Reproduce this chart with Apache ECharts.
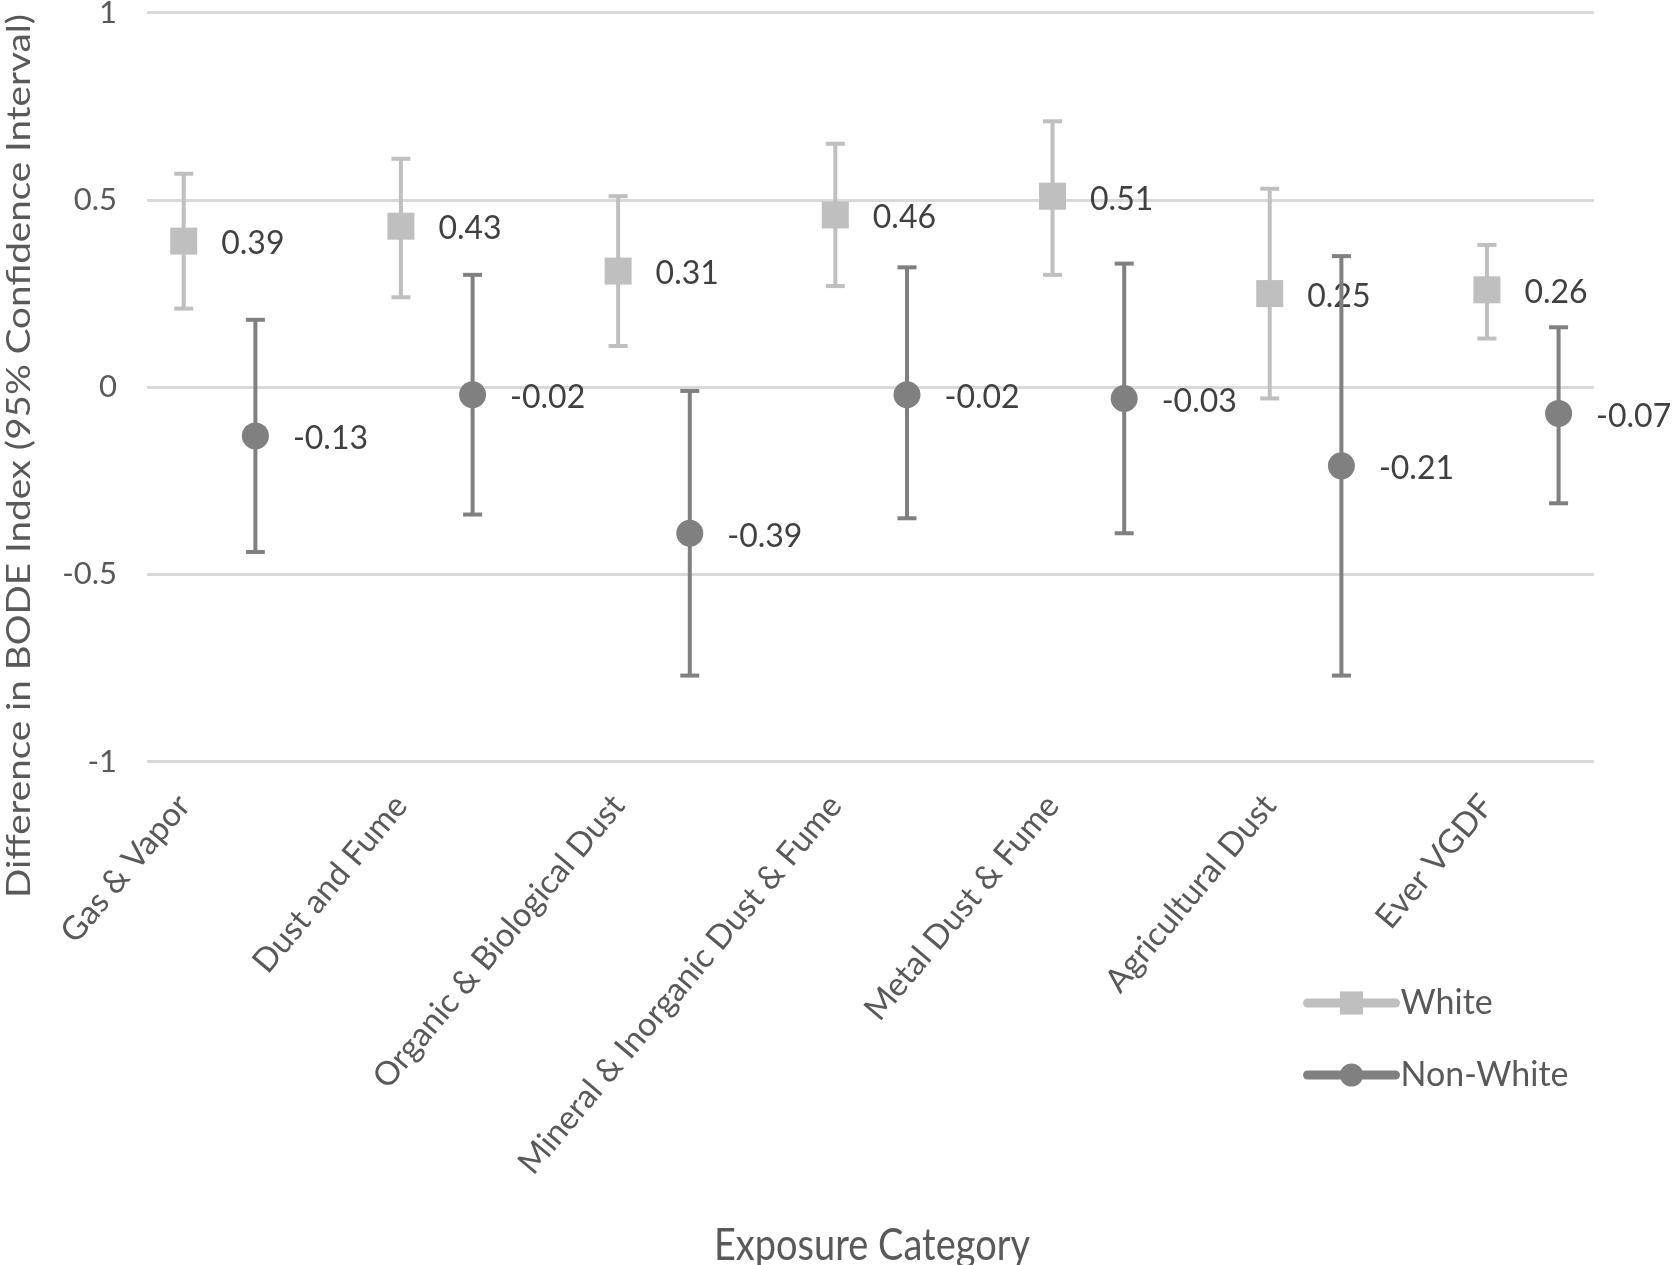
<!DOCTYPE html>
<html>
<head>
<meta charset="utf-8">
<script src="https://cdn.jsdelivr.net/npm/echarts@6/dist/echarts.min.js"></script>
<style>
html,body{margin:0;padding:0;background:#fff;}
#chart{width:1675px;height:1265px;}
</style>
</head>
<body>
<div id="chart"></div>
<script>
const categories = ['Gas & Vapor','Dust and Fume','Organic & Biological Dust','Mineral & Inorganic Dust & Fume','Metal Dust & Fume','Agricultural Dust','Ever VGDF'];
const whiteMean = [0.39, 0.43, 0.31, 0.46, 0.51, 0.25, 0.26];
const whiteLow  = [0.21, 0.24, 0.11, 0.27, 0.30, -0.03, 0.13];
const whiteHigh = [0.57, 0.61, 0.51, 0.65, 0.71, 0.53, 0.38];
const nonWhiteMean = [-0.13, -0.02, -0.39, -0.02, -0.03, -0.21, -0.07];
const nonWhiteLow  = [-0.44, -0.34, -0.77, -0.35, -0.39, -0.77, -0.31];
const nonWhiteHigh = [0.18, 0.30, -0.01, 0.32, 0.33, 0.35, 0.16];
const seriesNames = ['White', 'Non-White'];
const xTitle = 'Exposure Category';
const yTitle = 'Difference in BODE Index (95% Confidence Interval)';

const FONT = 'Lato';
const WHITE_COLOR = '#BFBFBF';
const NONWHITE_COLOR = '#808080';
const OFFSET = 0.33;

const catPos = categories.map((c, i) => i + 1);
const whitePts = categories.map((c, i) => [catPos[i], whiteMean[i]]);
const nonWhitePts = categories.map((c, i) => [catPos[i] + OFFSET, nonWhiteMean[i]]);
const whiteBars = categories.map((c, i) => [catPos[i], whiteLow[i], whiteHigh[i]]);
const nonWhiteBars = categories.map((c, i) => [catPos[i] + OFFSET, nonWhiteLow[i], nonWhiteHigh[i]]);

function errorBar(color) {
  return function (params, api) {
    const x = api.value(0), lo = api.value(1), hi = api.value(2);
    const p1 = api.coord([x, hi]);
    const p2 = api.coord([x, lo]);
    const hw = 9.5;
    const style = { stroke: color, lineWidth: 4, fill: null };
    return {
      type: 'group',
      children: [
        { type: 'line', shape: { x1: p1[0], y1: p1[1], x2: p2[0], y2: p2[1] }, style: style },
        { type: 'line', shape: { x1: p1[0] - hw, y1: p1[1], x2: p1[0] + hw, y2: p1[1] }, style: style },
        { type: 'line', shape: { x1: p2[0] - hw, y1: p2[1], x2: p2[0] + hw, y2: p2[1] }, style: style }
      ]
    };
  };
}

const labelStyle = {
  show: true,
  position: 'right',
  distance: 24,
  offset: [0, 3],
  fontFamily: FONT,
  fontSize: 32,
  color: '#404040',
  formatter: p => p.value[1].toFixed(2)
};

const chart = echarts.init(document.getElementById('chart'), null, { renderer: 'canvas' });
chart.setOption({
  animation: false,
  backgroundColor: '#ffffff',
  grid: { left: 147, right: 81, top: 12.7, bottom: 503.3, containLabel: false, outerBoundsMode: 'none' },
  xAxis: {
    type: 'value',
    min: 0.831,
    max: 7.493,
    axisLine: { show: false },
    axisTick: { show: false },
    splitLine: { show: false },
    axisLabel: {
      customValues: catPos,
      rotate: 50,
      margin: 38,
      fontFamily: FONT,
      fontSize: 33,
      color: '#595959',
      formatter: v => categories[Math.round(v) - 1] || ''
    }
  },
  yAxis: {
    type: 'value',
    min: -1,
    max: 1,
    interval: 0.5,
    axisLine: { show: false },
    axisTick: { show: false },
    splitLine: { show: true, lineStyle: { color: '#D9D9D9', width: 3 } },
    axisLabel: { fontFamily: FONT, fontSize: 31, color: '#595959', margin: 30 }
  },
  legend: {
    orient: 'vertical',
    left: 1298,
    top: 981,
    itemWidth: 88,
    itemHeight: 29,
    itemGap: 38,
    data: seriesNames,
    textStyle: { fontFamily: FONT, fontSize: 34, color: '#595959', lineHeight: 29 },
    lineStyle: { width: 9, opacity: 1, cap: 'round' }
  },
  graphic: [
    {
      type: 'text',
      x: 19,
      y: 456,
      rotation: Math.PI / 2,
      scaleY: 0.85,
      style: {
        text: yTitle,
        fontFamily: FONT,
        fontSize: 38.6,
        fill: '#595959',
        align: 'center',
        verticalAlign: 'middle'
      }
    },
    {
      type: 'text',
      x: 872,
      y: 1246,
      scaleY: 1.15,
      style: {
        text: xTitle,
        fontFamily: FONT,
        fontSize: 38,
        fill: '#595959',
        align: 'center',
        verticalAlign: 'middle'
      }
    }
  ],
  series: [
    {
      type: 'custom',
      name: 'White CI',
      renderItem: errorBar(WHITE_COLOR),
      data: whiteBars,
      encode: { x: 0, y: [1, 2] },
      z: 1,
      silent: true
    },
    {
      type: 'line',
      name: seriesNames[0],
      data: whitePts,
      symbol: 'rect',
      symbolSize: 27,
      itemStyle: { color: WHITE_COLOR },
      lineStyle: { width: 0, opacity: 0, color: WHITE_COLOR },
      label: labelStyle,
      z: 2
    },
    {
      type: 'custom',
      name: 'Non-White CI',
      renderItem: errorBar(NONWHITE_COLOR),
      data: nonWhiteBars,
      encode: { x: 0, y: [1, 2] },
      z: 3,
      silent: true
    },
    {
      type: 'line',
      name: seriesNames[1],
      data: nonWhitePts,
      symbol: 'circle',
      symbolSize: 27,
      itemStyle: { color: NONWHITE_COLOR },
      lineStyle: { width: 0, opacity: 0, color: NONWHITE_COLOR },
      label: labelStyle,
      z: 4
    }
  ]
});
</script>
</body>
</html>
